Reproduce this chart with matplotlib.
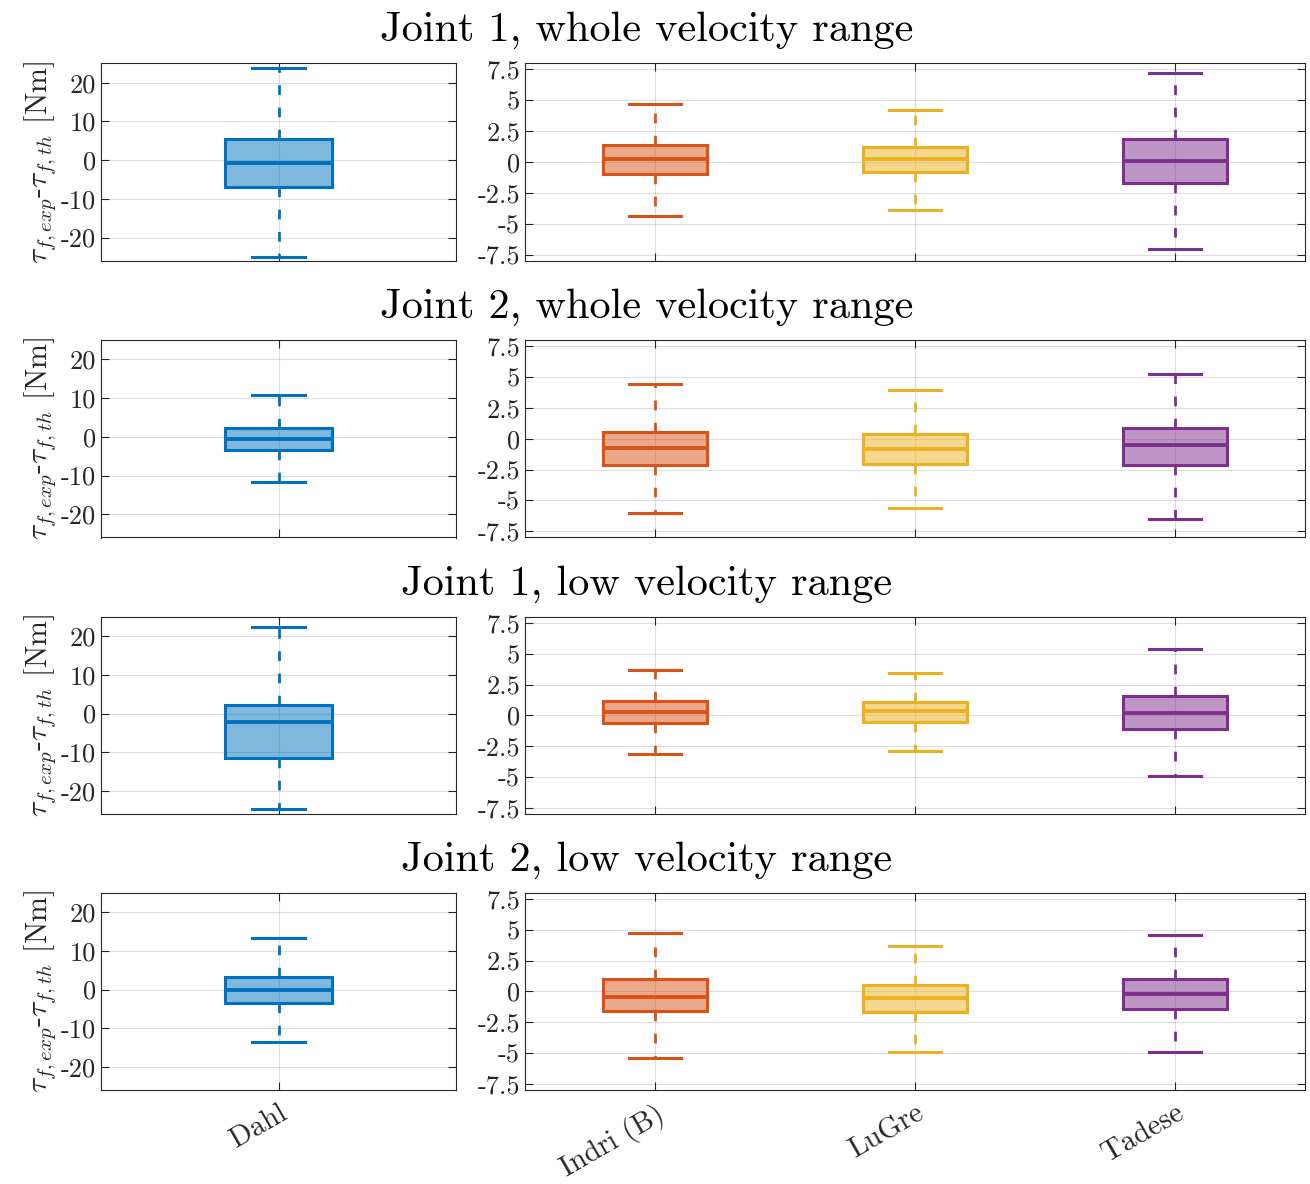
import matplotlib.pyplot as plt
from matplotlib.colors import to_rgb

plt.rcParams.update({
    'font.family': 'serif',
    'font.serif': ['cmr10'],
    'mathtext.fontset': 'cm',
    'axes.unicode_minus': False,
    'axes.formatter.use_mathtext': True,
})

# one row per panel: Joint 1/2, whole/low velocity range
row_titles = ['Joint 1, whole velocity range', 'Joint 2, whole velocity range',
              'Joint 1, low velocity range', 'Joint 2, low velocity range']
models = ['Dahl', 'Indri (B)', 'LuGre', 'Tadese']
colors = ['#0072BD', '#D95319', '#EDB120', '#7E2F8E']

# box statistics, columns follow `models`
whisker_low = [[-25.1, -4.39, -3.88, -7.05],
               [-11.7, -6.01, -5.60, -6.50],
               [-24.7, -3.15, -2.88, -4.94],
               [-13.5, -5.38, -4.87, -4.92]]
q1 = [[-7.0, -0.95, -0.84, -1.68],
      [-3.3, -2.14, -2.03, -2.14],
      [-11.6, -0.60, -0.54, -1.09],
      [-3.5, -1.55, -1.69, -1.39]]
median = [[-0.8, 0.21, 0.21, 0.10],
          [-0.5, -0.73, -0.81, -0.49],
          [-2.15, 0.30, 0.35, 0.22],
          [-0.17, -0.41, -0.57, -0.19]]
q3 = [[5.4, 1.35, 1.22, 1.87],
      [2.3, 0.54, 0.41, 0.86],
      [2.07, 1.14, 1.06, 1.55],
      [3.33, 0.98, 0.49, 0.98]]
whisker_high = [[23.8, 4.71, 4.25, 7.20],
                [10.7, 4.47, 3.98, 5.28],
                [22.4, 3.67, 3.40, 5.41],
                [13.3, 4.75, 3.72, 4.56]]

left_yticks = [-20, -10, 0, 10, 20]
right_yticks = [-7.5, -5, -2.5, 0, 2.5, 5, 7.5]
right_yticklabels = ['-7.5', '-5', '-2.5', '0', '2.5', '5', '7.5']

W, H = 1310, 1184
axis_color = '#262626'


def draw_boxes(ax, cols, r, positions, width, capwidth):
    stats = [dict(whislo=whisker_low[r][c], q1=q1[r][c], med=median[r][c],
                  q3=q3[r][c], whishi=whisker_high[r][c], fliers=[]) for c in cols]
    bp = ax.bxp(stats, positions=positions, widths=width, capwidths=capwidth,
                patch_artist=True, showfliers=False, manage_ticks=False)
    for i, c in enumerate(cols):
        col = colors[c]
        bp['boxes'][i].set(facecolor=(*to_rgb(col), 0.5), edgecolor=col, linewidth=2.2)
        bp['medians'][i].set(color=col, linewidth=2.8)
        for w in bp['whiskers'][2 * i:2 * i + 2]:
            w.set(color=col, linewidth=2, linestyle=(0, (3.5, 4.5)))
        for cap in bp['caps'][2 * i:2 * i + 2]:
            cap.set(color=col, linewidth=2.2)


def style_axes(ax):
    ax.set_axisbelow(True)
    ax.grid(True, color=axis_color, alpha=0.15, linewidth=0.8)
    ax.tick_params(direction='in', length=6, width=0.8, top=True, right=True,
                   colors=axis_color, labelsize=19)
    for s in ax.spines.values():
        s.set_color(axis_color)
        s.set_linewidth(0.8)


fig = plt.figure(figsize=(W / 100, H / 100), dpi=100)

row_tops = [63.3, 340, 616.7, 892.7]
ax_h = 197.5

for r in range(4):
    top = row_tops[r]
    bottom = 1 - (top + ax_h) / H

    axl = fig.add_axes([101 / W, bottom, 355 / W, ax_h / H])
    draw_boxes(axl, [0], r, [1], 0.3, 0.15)
    axl.set_xlim(0.5, 1.5)
    axl.set_ylim(-26, 25)
    axl.set_yticks(left_yticks)
    axl.set_yticklabels([str(t) for t in left_yticks])
    axl.set_xticks([1])
    axl.set_ylabel(r'$\tau_{f,exp}$-$\tau_{f,th}$ [Nm]', fontsize=21.5,
                   color=axis_color, labelpad=2)
    style_axes(axl)

    axr = fig.add_axes([525 / W, bottom, 780 / W, ax_h / H])
    draw_boxes(axr, [1, 2, 3], r, [1, 2, 3], 0.4, 0.2)
    axr.set_xlim(0.5, 3.5)
    axr.set_ylim(-8, 8)
    axr.set_yticks(right_yticks)
    axr.set_yticklabels(right_yticklabels)
    axr.set_xticks([1, 2, 3])
    style_axes(axr)

    if r == 3:
        for ax, names in ((axl, models[:1]), (axr, models[1:])):
            ax.set_xticklabels(names, rotation=30, ha='right', va='top',
                               rotation_mode='anchor', fontsize=21)
            ax.tick_params(axis='x', pad=7)
    else:
        axl.set_xticklabels([])
        axr.set_xticklabels([])

    fig.text(647 / W, 1 - (top - 22) / H, row_titles[r], fontsize=30.5,
             ha='center', va='baseline', color='black')

fig.savefig('out.png', dpi=100)
